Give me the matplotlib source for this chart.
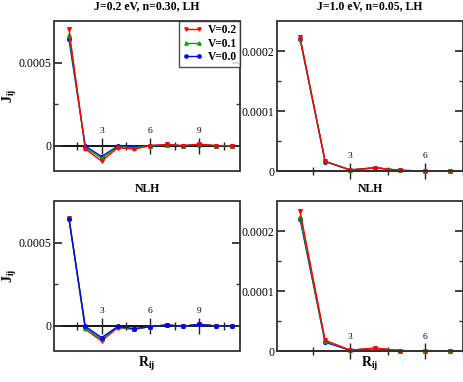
import matplotlib
matplotlib.use('Agg')
import matplotlib.pyplot as plt
from matplotlib.patches import Rectangle
from matplotlib.ticker import FixedLocator, FixedFormatter, NullFormatter

plt.rcParams['font.family'] = ['Liberation Serif', 'DejaVu Serif']
plt.rcParams['mathtext.fontset'] = 'custom'
plt.rcParams['mathtext.rm'] = 'Liberation Serif'
plt.rcParams['mathtext.bf'] = 'Liberation Serif:bold'
plt.rcParams['mathtext.it'] = 'Liberation Serif:italic'

# ---------------- data ----------------
r_left = list(range(1, 12))
r_right = list(range(1, 8))
series_labels = ['V=0.2', 'V=0.1', 'V=0.0']
series_colors = ['#ff0000', '#00a000', '#0000ff']
series_markers = ['v', '^', 'o']

# LH, J=0.2 eV, n=0.30
lh_a_v02 = [0.000700, -0.000020, -0.000092, -0.000012, -0.000020, 0.0, 0.000008, 0.0, 0.000010, 0.0, 0.0]
lh_a_v01 = [0.000666, -0.000012, -0.000075, -0.000006, -0.000012, 0.0, 0.000006, 0.0, 0.000008, 0.0, 0.0]
lh_a_v00 = [0.000640, -0.000002, -0.000065, -0.000002, -0.000006, 0.0, 0.000004, 0.0, 0.000006, 0.0, 0.0]
# LH, J=1.0 eV, n=0.05
lh_b_v02 = [0.000223, 0.0000162, 0.0000018, 0.0000055, 0.000001, 0.0, 0.0]
lh_b_v01 = [0.000221, 0.0000160, 0.0000017, 0.0000054, 0.000001, 0.0, 0.0]
lh_b_v00 = [0.000220, 0.0000158, 0.0000016, 0.0000053, 0.000001, 0.0, 0.0]
# NLH, J=0.2 eV
nlh_a_v02 = [0.000650, -0.000020, -0.000090, -0.000010, -0.000020, -0.000004, 0.000006, -0.000002, 0.000010, 0.0, 0.000002]
nlh_a_v01 = [0.000646, -0.000012, -0.000080, -0.000007, -0.000018, -0.000004, 0.000006, -0.000002, 0.000010, 0.0, 0.000002]
nlh_a_v00 = [0.000642, -0.000002, -0.000070, -0.000003, -0.000016, -0.000004, 0.000006, -0.000002, 0.000010, 0.0, 0.000002]
# NLH, J=1.0 eV
nlh_b_v02 = [0.000233, 0.0000183, 0.0000020, 0.0000055, 0.000001, 0.0, 0.0]
nlh_b_v01 = [0.000224, 0.0000165, 0.0000018, 0.0000050, 0.000001, 0.0, 0.0]
nlh_b_v00 = [0.000220, 0.0000150, 0.0000016, 0.0000045, 0.000001, 0.0, 0.0]

left_xticks = [3, 6, 9]
left_xminor = [1.5, 4.5, 7.5, 10.5]
right_xticks = [3, 6]
right_xminor = [1.5, 4.5, 7.5]
left_yticks = [0, 0.0005]
left_yticklabels = ['0', '0.0005']
left_yminor = [0.00025]
right_yticks = [0, 0.0001, 0.0002]
right_yticklabels = ['0', '0.0001', '0.0002']
right_yminor = [0.00005, 0.00015]

titles = ['J=0.2 eV, n=0.30, LH', 'J=1.0 eV, n=0.05, LH']
bottom_title = 'NLH'

W, H = 464, 382
fig = plt.figure(figsize=(W / 100, H / 100), dpi=100)


def make_ax(x0, y0, x1, y1):
    return fig.add_axes([x0 / W, 1 - y1 / H, (x1 - x0) / W, (y1 - y0) / H])


def style(ax, xlim, ylim, xt, xmin, yt, ytl, ymin):
    ax.set_xlim(*xlim)
    ax.set_ylim(*ylim)
    for s in ['left', 'right', 'bottom']:
        ax.spines[s].set_visible(False)
    ax.spines['top'].set_position(('data', 0))
    ax.spines['top'].set_linewidth(1.3)
    ax.spines['top'].set_zorder(1)
    ax.add_patch(Rectangle((0, 0), 1, 1, transform=ax.transAxes, fill=False,
                           lw=1.3, edgecolor='#333333', clip_on=False, zorder=6))
    ax.xaxis.set_ticks_position('top')
    ax.xaxis.set_major_locator(FixedLocator(xt))
    ax.xaxis.set_minor_locator(FixedLocator(xmin))
    ax.tick_params(axis='x', which='major', direction='inout', length=11.5, width=1,
                   labelsize=6.8, pad=2, color='#222222')
    ax.tick_params(axis='x', which='minor', direction='inout', length=6, width=1,
                   color='#222222')
    ax.yaxis.set_ticks_position('both')
    ax.yaxis.set_major_locator(FixedLocator(yt))
    ax.yaxis.set_major_formatter(FixedFormatter(ytl))
    ax.yaxis.set_minor_locator(FixedLocator(ymin))
    ax.yaxis.set_minor_formatter(NullFormatter())
    ax.tick_params(axis='y', which='major', direction='in', length=5.5, width=1.3,
                   labelsize=8.5, pad=2, color='#333333')
    ax.tick_params(axis='y', which='minor', direction='in', length=3, width=1,
                   color='#333333')


def draw(ax, x, ys, order):
    handles = [None] * 3
    for i in order:
        h, = ax.plot(x, ys[i], color=series_colors[i], marker=series_markers[i],
                     markersize=2.6, lw=1.0, zorder=3 + order.index(i), clip_on=False)
        handles[i] = h
    return handles


ax_tl = make_ax(54, 21, 240, 171)
ax_tr = make_ax(277, 21, 463, 171)
ax_bl = make_ax(54, 201, 240, 351.3)
ax_br = make_ax(277, 201, 463, 351.3)

ylim_left = (-0.000152, 0.00075)
ylim_right = (0, 0.00025)
xlim_left = (0.08, 11.5)
xlim_right = (0.08, 7.5)

for ax in (ax_tl, ax_bl):
    style(ax, xlim_left, ylim_left, left_xticks, left_xminor,
          left_yticks, left_yticklabels, left_yminor)
for ax in (ax_tr, ax_br):
    style(ax, xlim_right, ylim_right, right_xticks, right_xminor,
          right_yticks, right_yticklabels, right_yminor)

hs = draw(ax_tl, r_left, [lh_a_v02, lh_a_v01, lh_a_v00], [2, 1, 0])
draw(ax_tr, r_right, [lh_b_v02, lh_b_v01, lh_b_v00], [2, 1, 0])
draw(ax_bl, r_left, [nlh_a_v02, nlh_a_v01, nlh_a_v00], [0, 1, 2])
draw(ax_br, r_right, [nlh_b_v02, nlh_b_v01, nlh_b_v00], [2, 1, 0])

leg = ax_tl.legend(hs, series_labels, loc='upper right', bbox_to_anchor=(1, 1),
                   borderaxespad=0, frameon=True, fancybox=False,
                   prop={'weight': 'bold', 'size': 8.3}, handlelength=1.7,
                   handletextpad=0.45, labelspacing=0.12, borderpad=0.3,
                   numpoints=2, markerscale=0.9)
leg.get_frame().set_edgecolor('#222222')
leg.get_frame().set_linewidth(1.0)
leg.set_zorder(10)

for ax, t in zip((ax_tl, ax_tr), titles):
    ax.text(0.5, 1 + 15 / 150, t, transform=ax.transAxes, ha='center', va='center',
            fontsize=8.5, fontweight='bold')
for ax in (ax_bl, ax_br):
    ax.text(0.5, 1 + 12 / 150, bottom_title, transform=ax.transAxes, ha='center',
            va='center', fontsize=8.5, fontweight='bold')
    ax.text(0.5, -13 / 150, r'$\mathbf{R}_{\mathbf{ij}}$', transform=ax.transAxes,
            ha='center', va='center', fontsize=10)
for ax in (ax_tl, ax_bl):
    ax.text(-44 / 186, 0.5, r'$\mathbf{J}_{\mathbf{ij}}$', transform=ax.transAxes,
            ha='center', va='center', fontsize=10, rotation=90)

fig.savefig('out.png', dpi=100)
